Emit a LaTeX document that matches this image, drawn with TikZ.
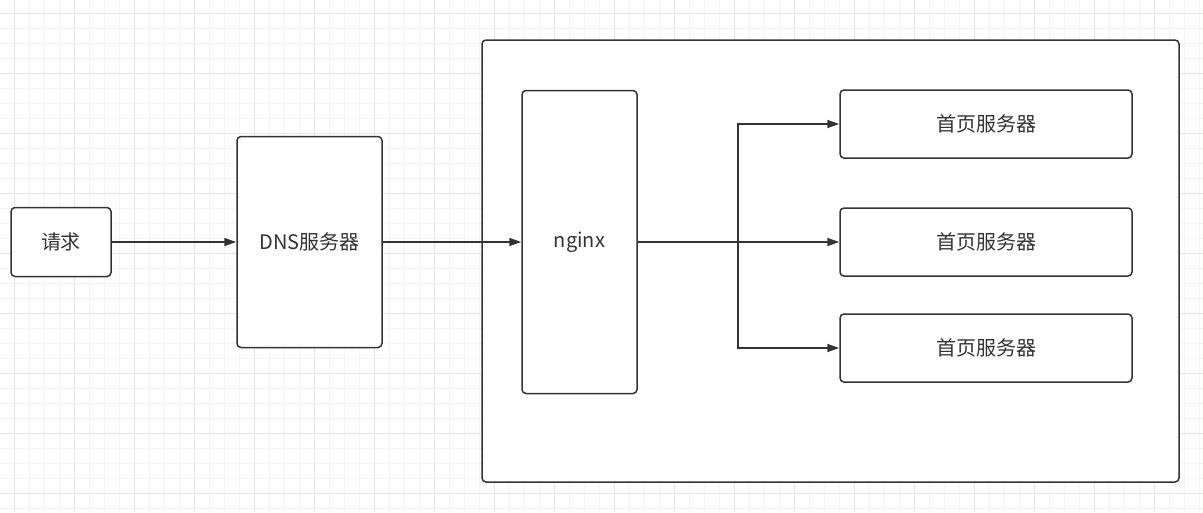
\documentclass[tikz,border=0pt]{standalone}
\usepackage{fontspec}
\setmainfont{Noto Sans CJK SC}
\usepackage{xcolor}
\usetikzlibrary{arrows.meta}
\definecolor{grid-minor}{HTML}{F4F4F4}
\definecolor{grid-major}{HTML}{E6E6E6}
\definecolor{ink}{HTML}{333333}
\tikzset{
    flow-box/.style = {draw=ink, fill=white, line width=1.5pt, rectangle, rounded corners=4pt, inner sep=0pt, text=ink, font=\fontsize{20}{24}\selectfont},
    flow-arrow/.style = {draw=ink, line width=1.5pt, -{Triangle[length=12pt,width=8pt]}},
}

\begin{document}
\begin{tikzpicture}[x=1pt, y=-1pt]
\useasboundingbox (0,0) rectangle (1203,512);
% background grid
\foreach \gx in {-1,14,...,1203} \draw[grid-minor, line width=1pt] (\gx,0) -- (\gx,512);
\foreach \gy in {-2,13,...,512} \draw[grid-minor, line width=1pt] (0,\gy) -- (1203,\gy);
\foreach \gx in {14,74,...,1203} \draw[grid-major, line width=1pt] (\gx,0) -- (\gx,512);
\foreach \gy in {13,73,...,512} \draw[grid-major, line width=1pt] (0,\gy) -- (1203,\gy);
% boxes
\node [flow-box, minimum width=697pt, minimum height=442pt] (cluster) at (830.5,261) {};
\node [flow-box, minimum width=100pt, minimum height=69pt] (req) at (61,242) {请求};
\node [flow-box, minimum width=145pt, minimum height=211pt] (dns) at (309.5,242) {DNS服务器};
\node [flow-box, minimum width=115pt, minimum height=303pt] (nginx) at (579.5,242) {nginx};
\node [flow-box, minimum width=292pt, minimum height=68pt] (web1) at (986,124) {首页服务器};
\node [flow-box, minimum width=292pt, minimum height=68pt] (web2) at (986,242) {首页服务器};
\node [flow-box, minimum width=292pt, minimum height=68pt] (web3) at (986,348) {首页服务器};
% connectors
\coordinate (fork) at (738,242);
\draw[flow-arrow] (req) -- (dns);
\draw[flow-arrow] (dns) -- (nginx);
\draw[flow-arrow] (nginx) -- (web2);
\draw[flow-arrow] (fork) |- (web1);
\draw[flow-arrow] (fork) |- (web3);
\end{tikzpicture}
\end{document}
